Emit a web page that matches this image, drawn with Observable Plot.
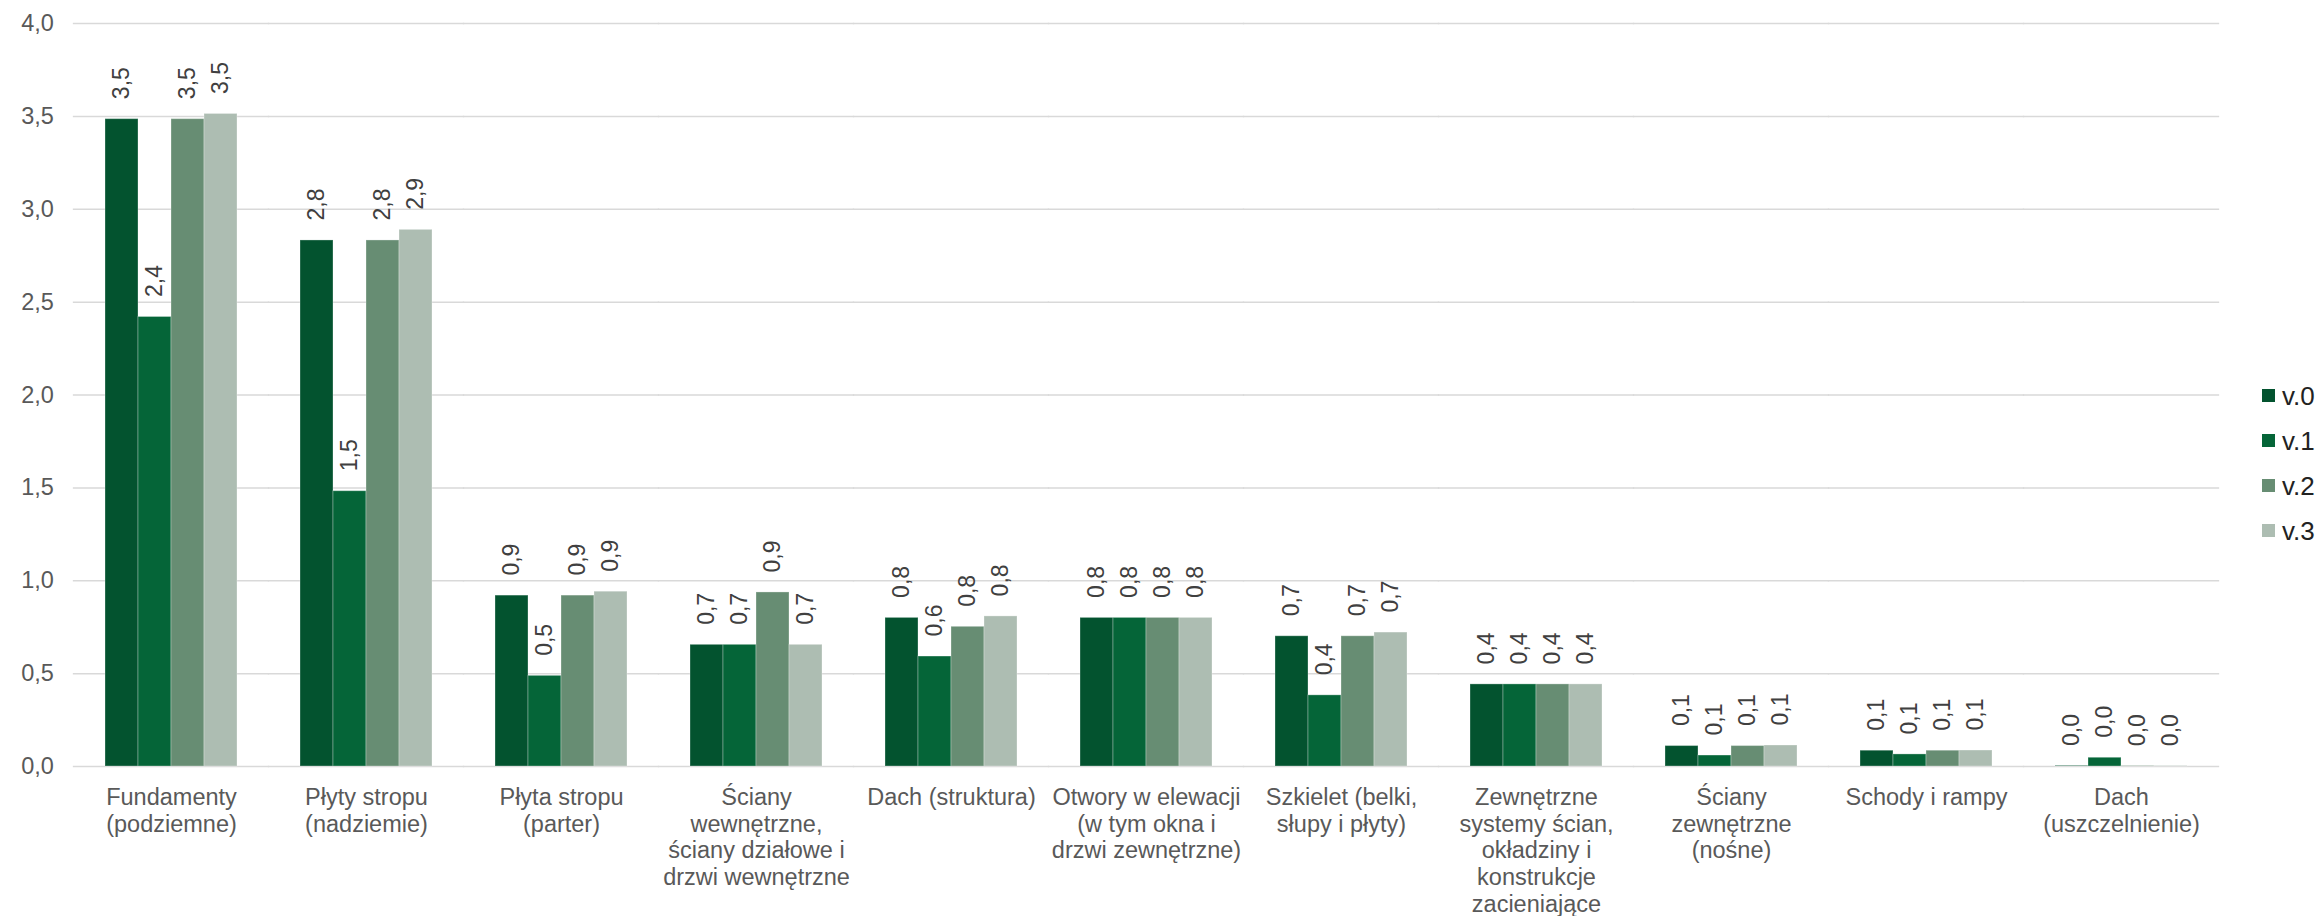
<!DOCTYPE html>
<html>
<head>
<meta charset="utf-8">
<script src="https://cdn.jsdelivr.net/npm/d3@7"></script>
<script src="https://cdn.jsdelivr.net/npm/@observablehq/plot@0.6"></script>
<style>
  body { margin: 0; background: #fff; font-family: "Liberation Sans", Arial, sans-serif; }
  #wrap { position: relative; width: 2323px; height: 916px; overflow: hidden; background: #fff; }
  #legend { position: absolute; left: 2262px; top: 373px; }
  #legend .row { display: flex; align-items: center; height: 45px; }
  #legend .sw { width: 13px; height: 13px; margin-right: 7px; }
  #legend .lb { font-size: 26px; color: #222; line-height: 1; }
</style>
</head>
<body>
<div id="wrap"><div id="legend"></div></div>
<script>
const categories = [
  "Fundamenty (podziemne)", "Płyty stropu (nadziemie)", "Płyta stropu (parter)",
  "Ściany wewnętrzne, ściany działowe i drzwi wewnętrzne", "Dach (struktura)",
  "Otwory w elewacji (w tym okna i drzwi zewnętrzne)", "Szkielet (belki, słupy i płyty)",
  "Zewnętrzne systemy ścian, okładziny i konstrukcje zacieniające",
  "Ściany zewnętrzne (nośne)", "Schody i rampy", "Dach (uszczelnienie)"
];
const categoryLabels = [
  "Fundamenty\n(podziemne)", "Płyty stropu\n(nadziemie)", "Płyta stropu\n(parter)",
  "Ściany\nwewnętrzne,\nściany działowe i\ndrzwi wewnętrzne", "Dach (struktura)",
  "Otwory w elewacji\n(w tym okna i\ndrzwi zewnętrzne)", "Szkielet (belki,\nsłupy i płyty)",
  "Zewnętrzne\nsystemy ścian,\nokładziny i\nkonstrukcje\nzacieniające",
  "Ściany\nzewnętrzne\n(nośne)", "Schody i rampy", "Dach\n(uszczelnienie)"
];
const series = ["v.0", "v.1", "v.2", "v.3"];
const v0 = [3.485, 2.832, 0.920, 0.655, 0.800, 0.800, 0.701, 0.442, 0.110, 0.085, 0.003];
const v1 = [2.420, 1.482, 0.488, 0.655, 0.592, 0.800, 0.383, 0.442, 0.059, 0.065, 0.047];
const v2 = [3.485, 2.832, 0.920, 0.937, 0.752, 0.800, 0.701, 0.442, 0.110, 0.085, 0.002];
const v3 = [3.513, 2.889, 0.941, 0.655, 0.808, 0.800, 0.721, 0.442, 0.113, 0.086, 0.002];
const colors = ["#03532f", "#056538", "#678d73", "#adbdb2"];
const yTicks = [0, 0.5, 1, 1.5, 2, 2.5, 3, 3.5, 4];

const seriesValues = [v0, v1, v2, v3];
const data = categories.flatMap((c, i) =>
  series.map((s, j) => ({category: c, series: s, value: seriesValues[j][i]}))
);
const fmt = v => v.toFixed(1).replace(".", ",");

const W = 2323, H = 916, mL = 72, mR = 103, mT = 23, mB = 150;
const padInner = 0.314;
const step = (W - mL - mR) / categories.length;
const halfGap = step * padInner / 2;
const font = "'Liberation Sans', Arial, sans-serif";

const chart = Plot.plot({
  width: W, height: H,
  marginTop: mT, marginBottom: mB, marginLeft: mL, marginRight: mR,
  style: {fontFamily: font, fontSize: "23.5px", color: "#595959", background: "#fff", overflow: "visible"},
  fx: {domain: categories, paddingInner: padInner, paddingOuter: padInner / 2, label: null},
  x: {domain: series, padding: 0, axis: null},
  y: {domain: [0, 4], label: null},
  color: {domain: series, range: colors},
  marks: [
    Plot.ruleY(yTicks, {stroke: "#d9d9d9", strokeWidth: 1.5, insetLeft: -halfGap - 0.5, insetRight: -halfGap - 0.5}),
    Plot.axisY(yTicks, {tickSize: 0, tickPadding: halfGap + 20, tickFormat: fmt, label: null, fill: "#595959", fontSize: 23.5}),
    Plot.axisFx({anchor: "bottom", tickSize: 0, tickPadding: 20, label: null, lineHeight: 1.13,
      fontSize: 23.5, fill: "#595959", tickFormat: d => categoryLabels[categories.indexOf(d)]}),
    Plot.barY(data, {fx: "category", x: "series", y: "value", fill: "series",
      stroke: "#ffffff", strokeOpacity: 0.3, strokeWidth: 1}),
    Plot.text(data, {fx: "category", x: "series", y: "value", text: d => fmt(d.value),
      rotate: -90, textAnchor: "start", dy: -20, fontSize: 23, fill: "#404040"})
  ]
});
document.getElementById("wrap").prepend(chart);

const legend = document.getElementById("legend");
series.forEach((s, i) => {
  const row = document.createElement("div");
  row.className = "row";
  row.innerHTML = `<div class="sw" style="background:${colors[i]}"></div><div class="lb">${s}</div>`;
  legend.appendChild(row);
});
</script>
</body>
</html>
